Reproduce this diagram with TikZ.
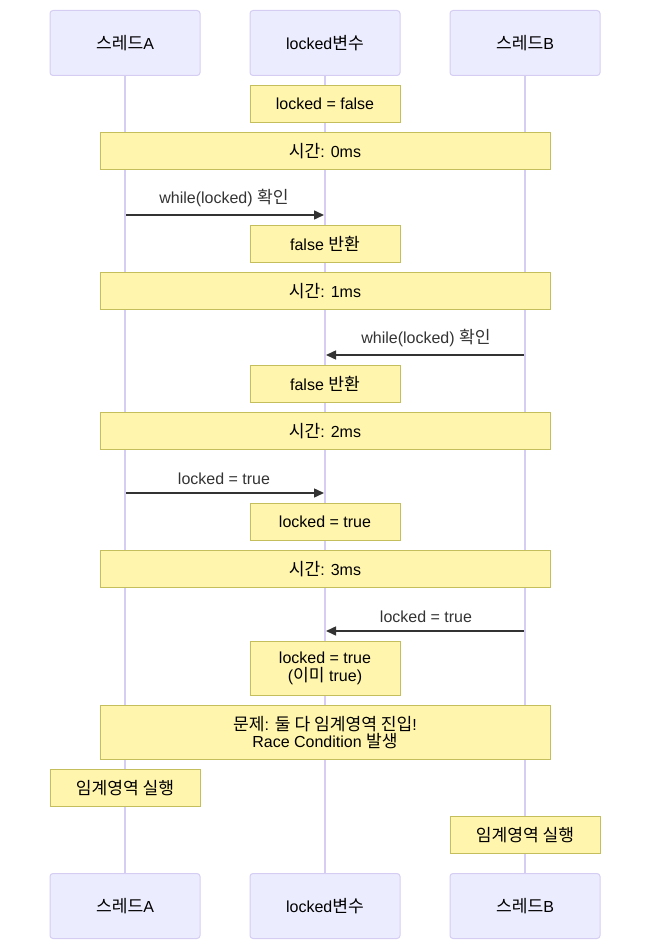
\documentclass[tikz,border=0pt]{standalone}
\usepackage{fontspec}
\setmainfont{Liberation Sans}
\newfontfamily\krfont[Scale=1.07]{Noto Sans CJK KR}
\newcommand{\kr}[1]{{\krfont #1}}
\usetikzlibrary{arrows.meta}
\definecolor{actorfill}{HTML}{ECECFF}
\definecolor{actorline}{HTML}{D6CDF3}
\definecolor{notefill}{HTML}{FFF5AD}
\definecolor{noteline}{HTML}{C4BF5C}
\definecolor{msg}{HTML}{333333}
\begin{document}
\begin{tikzpicture}[x=1pt,y=-1pt,font=\fontsize{16}{17.5}\selectfont,
  actor/.style={draw=actorline,fill=actorfill,rounded corners=3,minimum width=150,minimum height=65,inner sep=0,line width=1},
  lifeline/.style={draw=actorline,line width=1.5},
  note/.style={draw=noteline,fill=notefill,minimum height=37,inner sep=0,line width=1,align=center,text=black},
  smallnote/.style={note,minimum width=150},
  widenote/.style={note,minimum width=450},
  msgline/.style={draw=msg,line width=1.5,-{Triangle[length=10pt,width=9pt]}},
  msglabel/.style={text=msg,inner sep=0}]
\useasboundingbox (0,0) rectangle (650,949);
% actors
\node[actor] (at) at (125,43) {\kr{스레드}A};
\node[actor] (lt) at (325,43) {locked\kr{변수}};
\node[actor] (bt) at (525,43) {\kr{스레드}B};
\node[actor] (ab) at (125,906) {\kr{스레드}A};
\node[actor] (lb) at (325,906) {locked\kr{변수}};
\node[actor] (bb) at (525,906) {\kr{스레드}B};
% lifelines
\draw[lifeline] (at.south) -- (ab.north);
\draw[lifeline] (lt.south) -- (lb.north);
\draw[lifeline] (bt.south) -- (bb.north);
% notes
\node[smallnote] (n1) at (325,104) {locked = false};
\node[widenote] (t0) at (325,151) {\kr{시간}: 0ms};
\node[smallnote] (n2) at (325,244) {false \kr{반환}};
\node[widenote] (t1) at (325,291) {\kr{시간}: 1ms};
\node[smallnote] (n3) at (325,384) {false \kr{반환}};
\node[widenote] (t2) at (325,431) {\kr{시간}: 2ms};
\node[smallnote] (n4) at (325,522) {locked = true};
\node[widenote] (t3) at (325,569) {\kr{시간}: 3ms};
\node[smallnote,minimum height=54] (n5) at (325,668.5) {locked = true\\(\kr{이미} true)};
\node[widenote,minimum height=54] (p) at (325,732.5) {\kr{문제}: \kr{둘 다 임계영역 진입}!\\Race Condition \kr{발생}};
\node[smallnote] (ca) at (125,788) {\kr{임계영역 실행}};
\node[smallnote] (cb) at (525,835) {\kr{임계영역 실행}};
% messages
\coordinate (m1s) at (126,215); \coordinate (m1e) at (324,215);
\coordinate (m2s) at (524,355); \coordinate (m2e) at (326,355);
\coordinate (m3s) at (126,493); \coordinate (m3e) at (324,493);
\coordinate (m4s) at (524,631); \coordinate (m4e) at (326,631);
\draw[msgline] (m1s) -- (m1e);
\draw[msgline] (m2s) -- (m2e);
\draw[msgline] (m3s) -- (m3e);
\draw[msgline] (m4s) -- (m4e);
\node[msglabel] (l1) at (224,198.5) {while(locked) \kr{확인}};
\node[msglabel] (l2) at (426,338.5) {while(locked) \kr{확인}};
\node[msglabel] (l3) at (224,478.5) {locked = true};
\node[msglabel] (l4) at (426,616.5) {locked = true};
\end{tikzpicture}
\end{document}
